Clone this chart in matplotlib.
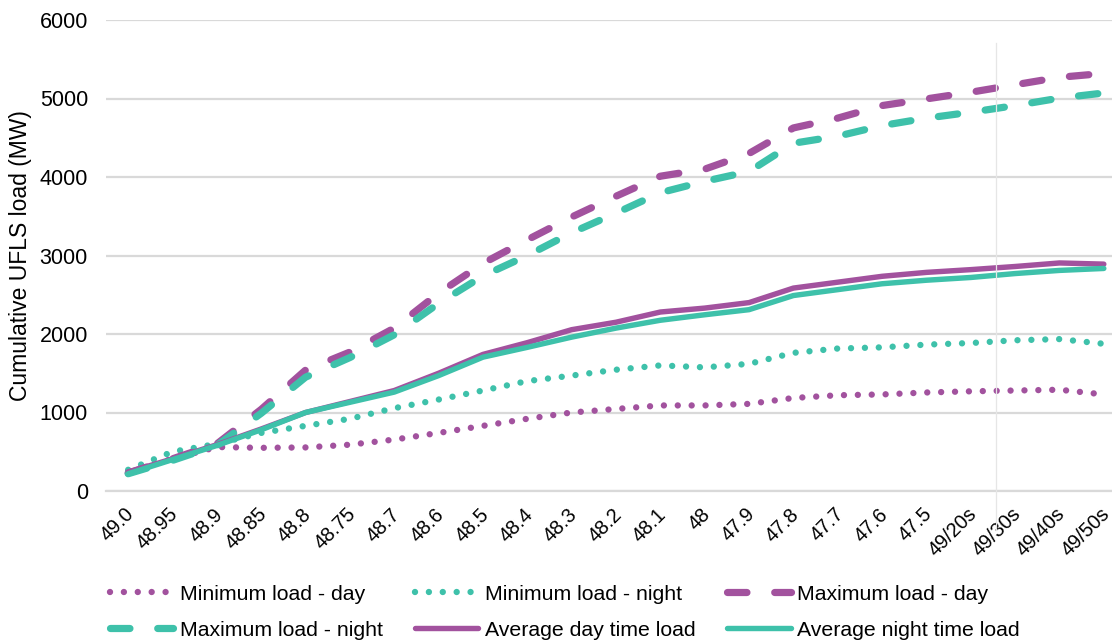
import matplotlib
matplotlib.use("Agg")
import matplotlib.pyplot as plt
from matplotlib.lines import Line2D
from matplotlib.transforms import ScaledTranslation

plt.rcParams['font.family'] = ['Liberation Sans', 'DejaVu Sans']
plt.rcParams['lines.scale_dashes'] = False

categories = ["49.0", "48.95", "48.9", "48.85", "48.8", "48.75", "48.7", "48.6",
              "48.5", "48.4", "48.3", "48.2", "48.1", "48", "47.9", "47.8",
              "47.7", "47.6", "47.5", "49/20s", "49/30s", "49/40s", "49/50s"]

min_day = [250, 410, 560, 550, 555, 590, 655, 740, 830, 920, 1000, 1045,
           1090, 1090, 1110, 1185, 1220, 1230, 1255, 1270, 1280, 1290, 1230]
min_night = [270, 500, 600, 740, 830, 920, 1055, 1165, 1280, 1400, 1470, 1545,
             1600, 1575, 1620, 1760, 1815, 1830, 1865, 1885, 1920, 1935, 1875]
max_day = [230, 410, 600, 1040, 1540, 1770, 2075, 2520, 2900, 3200, 3490, 3755,
           4010, 4100, 4300, 4625, 4750, 4910, 4995, 5080, 5175, 5270, 5320]
max_night = [220, 390, 580, 990, 1450, 1700, 1990, 2390, 2740, 3000, 3290, 3540,
             3800, 3945, 4070, 4430, 4520, 4655, 4750, 4825, 4910, 5005, 5070]
avg_day = [240, 410, 590, 790, 1000, 1140, 1280, 1500, 1740, 1890, 2055, 2150,
           2280, 2330, 2400, 2585, 2660, 2735, 2785, 2820, 2860, 2905, 2890]
avg_night = [220, 400, 580, 780, 1000, 1130, 1260, 1470, 1705, 1830, 1960, 2075,
             2175, 2245, 2310, 2490, 2565, 2640, 2685, 2720, 2770, 2810, 2835]

PURPLE = "#A2529E"
TEAL = "#3EC1AA"
GRID = "#D9D9D9"

W, H = 1112, 644
fig = plt.figure(figsize=(W / 100, H / 100), dpi=100)
ax = fig.add_axes([106 / W, (H - 491) / H, 1020 / W, 471 / H])

x = list(range(len(categories)))
dot = (0, (0.001, 10.0))
dash = (0, (14.0, 20.0))

series = [
    ("Minimum load - day", min_day, PURPLE, dot, 4.6),
    ("Minimum load - night", min_night, TEAL, dot, 4.6),
    ("Maximum load - day", max_day, PURPLE, dash, 5.2),
    ("Maximum load - night", max_night, TEAL, dash, 5.2),
    ("Average day time load", avg_day, PURPLE, "-", 3.9),
    ("Average night time load", avg_night, TEAL, "-", 3.9),
]
handles = {}
for name, vals, col, ls, lw in series:
    (ln,) = ax.plot(x, vals, color=col, linestyle=ls, linewidth=lw,
                    dash_capstyle="round", solid_capstyle="round",
                    solid_joinstyle="round", label=name, clip_on=False)
    handles[name] = ln

ax.set_xlim(-0.5, len(categories) - 0.5)
ax.set_ylim(0, 6000)
ax.set_yticks(range(0, 6001, 1000))
ax.yaxis.grid(True, color=GRID, linewidth=1.6)
ax.set_axisbelow(True)
for s in ["top", "right", "left"]:
    ax.spines[s].set_visible(False)
ax.spines["bottom"].set_color(GRID)
ax.spines["bottom"].set_linewidth(1.6)
ax.tick_params(axis="y", length=0, pad=13, labelsize=15.5, labelcolor="#000000")
ax.tick_params(axis="x", length=0, pad=4, labelsize=14.3, labelcolor="#000000")
ax.set_xticks(x)
ax.set_xticklabels(categories, rotation=45, ha="right", va="top",
                   rotation_mode="anchor")
shift = ScaledTranslation(-4 / 100, -8 / 100, fig.dpi_scale_trans)
for lab in ax.get_xticklabels():
    lab.set_transform(lab.get_transform() + shift)

ax.set_ylabel("Cumulative UFLS load (MW)", fontsize=16.5, color="#000000")
ax.yaxis.set_label_coords(-74 / 1020, 0.5)

# thin vertical rule crossing the right part of the plot
fig.add_artist(Line2D([996 / W, 996 / W], [1 - 43 / H, 1 - 530 / H],
                      color="#E6E6E6", linewidth=0.9))

order = ["Minimum load - day", "Maximum load - night",
         "Minimum load - night", "Average day time load",
         "Maximum load - day", "Average night time load"]
leg = fig.legend([handles[n] for n in order], order, ncol=3,
                 loc="center left", bbox_to_anchor=(99 / W, 1 - 612 / H),
                 frameon=False, fontsize=15.3, handlelength=3.0,
                 handletextpad=0.3, columnspacing=1.5, labelspacing=0.8,
                 borderpad=0)

fig.savefig("out.png", dpi=100)
